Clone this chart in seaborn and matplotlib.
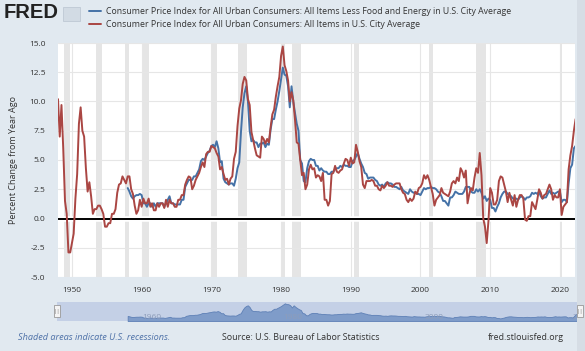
import matplotlib
matplotlib.use("Agg")
import matplotlib.pyplot as plt
import matplotlib.dates as mdates
import numpy as np
import pandas as pd
import seaborn as sns
from matplotlib.patches import Rectangle, FancyBboxPatch

# quarterly readings (Jan, Apr, Jul, Oct), percent change from year ago
cpi_start = "1948-01-01"
cpi_all = [
    10.2, 7.0, 9.7, 6.0,   1.5, 0.4, -2.9, -2.9,  -2.1, -1.3, 1.7, 3.8,
    8.1, 9.5, 7.5, 7.0,    4.3, 2.3, 3.1, 1.9,    0.4, 0.8, 0.8, 1.1,
    1.1, 0.8, 0.4, -0.7,   -0.7, -0.4, -0.4, 0.4, 0.4, 0.8, 2.2, 2.9,
    3.0, 3.6, 3.3, 3.0,    3.6, 3.6, 2.5, 2.1,    1.1, 0.4, 0.7, 1.6,
    1.0, 1.7, 1.3, 1.3,    1.7, 1.0, 1.3, 0.7,    0.7, 1.3, 1.0, 1.3,
    1.3, 0.9, 1.6, 1.0,    1.6, 1.3, 1.3, 1.0,    1.0, 1.6, 1.6, 2.0,
    2.0, 2.9, 3.3, 3.6,    3.5, 2.5, 2.8, 3.3,    3.6, 3.9, 4.4, 4.8,
    4.4, 5.5, 5.7, 5.7,    6.2, 6.1, 6.0, 5.6,    5.3, 4.2, 4.4, 3.8,
    3.3, 3.4, 2.9, 3.4,    3.6, 5.1, 5.7, 7.9,    9.4, 10.1, 11.5, 12.1,
    11.8, 10.2, 9.7, 7.4,  6.7, 6.0, 5.4, 5.3,    5.2, 7.0, 6.8, 6.4,
    6.8, 6.5, 7.8, 8.9,    9.3, 10.4, 11.3, 12.1, 13.9, 14.7, 13.1, 12.6,
    11.8, 10.0, 10.8, 10.1, 8.4, 6.5, 6.4, 5.0,   3.7, 3.9, 2.5, 2.9,
    4.2, 4.6, 4.2, 4.3,    3.5, 3.7, 3.6, 3.2,    3.9, 1.6, 1.6, 1.1,
    1.5, 3.8, 3.9, 4.5,    4.0, 3.9, 4.1, 4.2,    4.7, 5.1, 5.0, 4.5,
    5.2, 4.7, 4.8, 6.3,    5.7, 4.9, 4.4, 2.9,    2.6, 3.2, 3.2, 3.2,
    3.3, 3.2, 2.8, 2.8,    2.5, 2.4, 2.8, 2.6,    2.8, 3.1, 2.8, 2.8,
    2.7, 2.9, 3.0, 3.0,    3.0, 2.5, 2.2, 2.1,    1.6, 1.4, 1.7, 1.5,
    1.7, 2.3, 2.1, 2.6,    2.7, 3.0, 3.7, 3.4,    3.7, 3.3, 2.7, 2.1,
    1.1, 1.6, 1.8, 2.0,    2.6, 2.2, 2.1, 2.0,    1.9, 2.3, 3.0, 3.2,
    3.0, 3.5, 3.2, 4.3,    4.0, 3.5, 4.1, 1.3,    2.1, 2.6, 2.4, 3.5,
    4.3, 3.9, 5.6, 3.7,    0.0, -0.7, -2.1, -0.2, 2.6, 2.2, 1.2, 1.2,
    1.6, 3.2, 3.6, 3.5,    2.9, 2.3, 1.4, 2.2,    1.6, 1.1, 2.0, 1.0,
    1.6, 2.0, 2.0, 1.7,    -0.1, -0.2, 0.2, 0.2,  1.4, 1.1, 0.8, 1.6,
    2.5, 2.2, 1.7, 2.0,    2.1, 2.5, 2.9, 2.5,    1.6, 2.0, 1.8, 1.8,
    2.5, 0.3, 1.0, 1.2,    1.4, 4.2, 5.4, 6.2,    7.5, 8.5,
]

core_start = "1958-01-01"
core_cpi = [
    2.6, 2.3, 1.9, 1.7,    1.9, 2.0, 2.0, 2.1,    2.0, 1.3, 1.3, 1.0,
    1.3, 1.3, 1.0, 1.3,    1.0, 1.3, 1.3, 1.3,    1.3, 1.0, 1.3, 1.6,
    1.9, 1.3, 1.3, 1.2,    1.2, 1.2, 1.2, 1.6,    1.6, 2.7, 3.0, 3.3,
    3.3, 3.3, 3.6, 3.6,    3.9, 4.2, 4.9, 5.1,    5.0, 5.3, 5.6, 5.8,
    6.2, 6.3, 6.1, 6.6,    6.0, 4.8, 4.9, 3.4,    3.1, 3.0, 2.9, 3.0,
    3.0, 2.8, 3.4, 4.3,    4.8, 7.4, 9.5, 10.7,   11.3, 10.0, 7.5, 6.6,
    6.7, 6.5, 6.5, 6.1,    6.4, 6.4, 6.5, 6.1,    6.4, 6.3, 7.6, 8.5,
    8.5, 9.3, 10.0, 10.9,  11.9, 12.9, 12.3, 12.2, 11.3, 9.5, 11.3, 10.0,
    9.0, 8.1, 7.5, 5.0,    4.7, 3.2, 3.1, 4.3,    4.9, 5.1, 5.0, 5.0,
    4.5, 4.5, 4.1, 4.3,    4.1, 4.0, 4.0, 3.8,    3.8, 4.0, 4.0, 4.2,
    4.3, 4.3, 4.5, 4.4,    4.6, 4.5, 4.5, 4.4,    4.4, 4.9, 5.0, 5.3,
    5.6, 5.1, 4.7, 4.4,    3.9, 3.8, 3.4, 3.5,    3.5, 3.5, 3.3, 3.2,
    2.9, 2.8, 2.9, 2.7,    3.0, 3.1, 3.0, 3.0,    2.9, 2.7, 2.7, 2.6,
    2.5, 2.7, 2.4, 2.3,    2.2, 2.1, 2.5, 2.3,    2.2, 2.2, 2.1, 2.1,
    2.0, 2.3, 2.6, 2.5,    2.6, 2.6, 2.7, 2.6,    2.6, 2.5, 2.3, 2.2,
    1.9, 1.5, 1.5, 1.3,    1.1, 1.8, 1.8, 2.0,    2.3, 2.2, 2.1, 2.1,
    2.1, 2.3, 2.7, 2.7,    2.7, 2.3, 2.2, 2.2,    2.5, 2.3, 2.5, 2.2,
    1.7, 1.9, 1.5, 1.7,    1.6, 0.9, 0.9, 0.6,    1.0, 1.3, 1.8, 2.1,
    2.3, 2.3, 2.1, 2.0,    1.9, 1.7, 1.7, 1.7,    1.6, 1.8, 1.9, 1.8,
    1.6, 1.8, 1.8, 1.9,    2.2, 2.1, 2.2, 2.1,    2.3, 1.9, 1.7, 1.8,
    1.8, 2.1, 2.4, 2.1,    2.2, 2.1, 2.2, 2.3,    2.3, 1.4, 1.6, 1.6,
    1.4, 3.0, 4.3, 4.6,    6.0, 6.2,
]

recessions = [
    ("1948-11-01", "1949-10-01"), ("1953-07-01", "1954-05-01"),
    ("1957-08-01", "1958-04-01"), ("1960-04-01", "1961-02-01"),
    ("1969-12-01", "1970-11-01"), ("1973-11-01", "1975-03-01"),
    ("1980-01-01", "1980-07-01"), ("1981-07-01", "1982-11-01"),
    ("1990-07-01", "1991-03-01"), ("2001-03-01", "2001-11-01"),
    ("2007-12-01", "2009-06-01"), ("2020-02-01", "2020-04-01"),
]

tick_years = [1950, 1960, 1970, 1980, 1990, 2000, 2010, 2020]
y_ticks = [-5.0, -2.5, 0.0, 2.5, 5.0, 7.5, 10.0, 12.5, 15.0]
nav_labels = ["1960", "1980", "2000", "2"]
nav_label_years = [1960, 1980, 2000, 2021]

core_label = "Consumer Price Index for All Urban Consumers: All Items Less Food and Energy in U.S. City Average"
all_label = "Consumer Price Index for All Urban Consumers: All Items in U.S. City Average"

blue = "#4572A7"
red = "#AA4643"
bg = "#E1E9F0"

df_all = pd.DataFrame({"date": pd.date_range(cpi_start, periods=len(cpi_all), freq="QS"),
                       "value": cpi_all})
df_core = pd.DataFrame({"date": pd.date_range(core_start, periods=len(core_cpi), freq="QS"),
                        "value": core_cpi})

sns.set_style("white")
plt.rcParams["font.family"] = ["Open Sans", "DejaVu Sans"]

W, H = 585, 351
fig = plt.figure(figsize=(W / 100, H / 100), dpi=100)
fig.patch.set_facecolor(bg)

def fx(px):
    return px / W

def fy(py):
    return 1 - py / H

ax = fig.add_axes([fx(58), fy(277), fx(575) - fx(58), fy(43) - fy(277)])
ax.set_facecolor("white")

for s, e in recessions:
    ax.axvspan(pd.Timestamp(s), pd.Timestamp(e), color="#E5E5E5", lw=0, zorder=0)

for yv in y_ticks:
    ax.axhline(yv, color="#E6E6E6", lw=0.8, zorder=0.5)
for yr in tick_years:
    ax.axvline(pd.Timestamp(f"{yr}-01-01"), color="#E6E6E6", lw=0.8, zorder=0.5)

ax.axhline(0, color="white", lw=4, zorder=1)
ax.axhline(0, color="black", lw=1.4, zorder=1.2)

sns.lineplot(data=df_core, x="date", y="value", ax=ax, color=blue, lw=1.4, zorder=3)
sns.lineplot(data=df_all, x="date", y="value", ax=ax, color=red, lw=1.4, zorder=4)

ax.set_xlim(pd.Timestamp("1948-01-01"), pd.Timestamp("2022-03-01"))
ax.set_ylim(-5, 15)
ax.set_yticks(y_ticks)
ax.set_yticklabels([f"{v:.1f}" for v in y_ticks])
ax.set_xticks([pd.Timestamp(f"{yr}-01-01") for yr in tick_years])
ax.xaxis.set_major_formatter(mdates.DateFormatter("%Y"))
ax.tick_params(axis="x", length=5, color="#C0D0E0", labelsize=6, labelcolor="#333333", pad=2)
ax.tick_params(axis="y", length=0, labelsize=6, labelcolor="#333333", pad=9)
ax.set_xlabel("")
ax.set_ylabel("Percent Change from Year Ago", fontsize=6.5, color="#333333", labelpad=8)
for sp in ax.spines.values():
    sp.set_visible(False)

# navigator
nav = fig.add_axes([fx(57), fy(321), fx(581) - fx(57), fy(302) - fy(321)])
nav.set_facecolor("#C4D0E6")
nav.fill_between(df_core["date"], df_core["value"], -1.5, color="#7F9CC9", lw=0.6, ec="#5E80B6")
nav.set_xlim(pd.Timestamp("1948-01-01"), pd.Timestamp("2022-03-01"))
nav.set_ylim(-1.5, 14)
nav.set_xticks([])
nav.set_yticks([])
for sp in nav.spines.values():
    sp.set_visible(False)
for lab, yr in zip(nav_labels, nav_label_years):
    nav.text(pd.Timestamp(f"{yr}-01-01"), 1.0, lab, fontsize=6, color="#8E9DBA",
             va="center", ha="left")
for hx in [57, 580]:
    fig.patches.append(FancyBboxPatch((fx(hx) - 3 / W, fy(317)), 6 / W, 12 / H,
                                      boxstyle="square,pad=0", fc="#F4F4F4", ec="#999999",
                                      lw=0.6, transform=fig.transFigure, zorder=5))
    fig.text(fx(hx), fy(311), "||", fontsize=4.5, color="#666666", ha="center", va="center",
             zorder=6)

# right scrollbar strip
fig.patches.append(Rectangle((fx(577), 0), 8 / W, 1, fc="#D6DDE5", lw=0,
                             transform=fig.transFigure, zorder=0))

# header
fig.text(fx(4), fy(13), "FRED", fontsize=14.5, fontweight="bold", color="#222222",
         va="center", ha="left", family=["Liberation Sans", "DejaVu Sans"])
fig.patches.append(Rectangle((fx(63), fy(21)), 17 / W, 14 / H, fc="#D2DBE4", ec="#B8C4D0",
                             lw=0.5, transform=fig.transFigure))

handles = [plt.Line2D([], [], color=blue, lw=1.4), plt.Line2D([], [], color=red, lw=1.4)]
fig.legend(handles, [core_label, all_label], loc="upper left",
           bbox_to_anchor=(fx(83), fy(1)), frameon=False, fontsize=6.3,
           handlelength=1.4, handletextpad=0.5, labelspacing=0.45, borderpad=0.2,
           labelcolor="#333333")

# footer
fig.text(fx(18), fy(338), "Shaded areas indicate U.S. recessions.", fontsize=6.6,
         style="italic", color="#4F72A8", va="center", ha="left")
fig.text(fx(222), fy(338), "Source: U.S. Bureau of Labor Statistics", fontsize=6.4,
         color="#333333", va="center", ha="left")
fig.text(fx(488), fy(338), "fred.stlouisfed.org", fontsize=6.4,
         color="#333333", va="center", ha="left")

fig.savefig("out.png", dpi=100, facecolor=fig.get_facecolor())
